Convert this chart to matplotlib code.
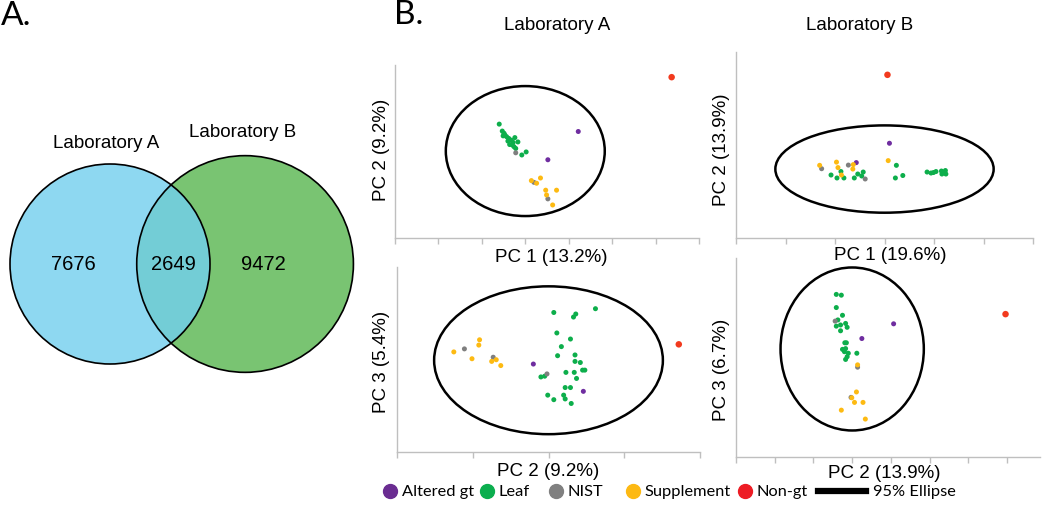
import numpy as np
import matplotlib.pyplot as plt
from matplotlib.patches import Circle, Ellipse
from matplotlib.lines import Line2D

W, H = 1050, 514

# ---- panel A: Venn counts ----
venn_sets = ['Laboratory A', 'Laboratory B']
only_a, shared, only_b = 7676, 2649, 9472

# ---- panel B: PCA scores ----
groups = ['Altered gt', 'Leaf', 'NIST', 'Supplement', 'Non-gt']
colors = ['#6F2DA0', '#0DAE4B', '#7F7F7F', '#FDBA12', '#F23A1E']
legend_colors = ['#6A2C91', '#0BAE4E', '#808080', '#FDB913', '#ED1C24']

# Laboratory A, PC1 vs PC2
labA_pc12 = {
    'Altered gt': ([12.2, 5.2], [4.5, -2.0]),
    'Leaf': ([-6.0, -5.3, -4.9, -5.1, -4.3, -3.8, -3.2, -2.8, -3.6, -2.6, -1.7, -2.4,
              -4.7, -4.0, -3.0, -2.2, 0.2, -0.8],
             [6.2, 4.6, 4.1, 3.5, 3.3, 2.9, 2.5, 2.0, 1.5, 1.0, 2.1, 3.1,
              3.7, 2.3, 1.4, 0.6, -0.2, -0.9]),
    'NIST': ([-2.2, 2.0, 5.2], [-0.4, -7.2, -11.0]),
    'Supplement': ([1.4, 3.5, 2.6, 4.7, 7.2, 4.9, 6.3], [-6.8, -6.2, -7.4, -9.0, -9.0, -10.1, -12.4]),
    'Non-gt': ([33.7], [17.0]),
}
# Laboratory B, PC1 vs PC2
labB_pc12 = {
    'Altered gt': ([1.0, -5.7], [5.2, 1.3]),
    'Leaf': ([-10.8, -8.8, -9.6, -8.2, -6.1, -5.4, -4.6, -4.3, 2.4, 2.2, 3.7,
              8.6, 9.4, 9.9, 10.4, 11.5, 11.9, 12.3, 12.4, 11.6],
             [-1.2, -0.5, -1.8, -1.8, -1.8, -1.0, -1.4, -0.6, 0.75, -1.8, -1.3,
              -0.6, -0.8, -0.7, -0.5, -0.4, -0.7, -0.3, -1.0, -1.0]),
    'NIST': ([-12.7, -7.3, -3.9], [0.07, 0.8, -2.0]),
    'Supplement': ([-13.1, -9.7, -9.4, -6.3, -6.4, -8.7, 0.75], [0.75, 1.4, 0.3, 0.9, 0.0, -1.2, 1.7]),
    'Non-gt': ([0.6], [19.0]),
}
# Laboratory A, PC2 vs PC3
labA_pc23 = {
    'Altered gt': ([-2.0, 4.6], [-0.5, -4.1]),
    'Leaf': ([0.7, 3.6, 3.3, 6.2, 1.1, 2.9, 1.7, 1.2, 3.5, 3.5, 4.2, 4.5, 4.8, 2.3,
              3.4, 3.7, -1.0, -0.5, 2.2, 2.9, -0.1, 0.7, 2.0, 2.2, 3.0],
             [6.3, 6.1, 5.7, 6.8, 3.6, 2.8, 1.8, 0.6, 0.7, -0.15, -0.3, -1.3, -1.3, -1.6,
              -1.6, -2.4, -2.2, -2.1, -3.6, -3.6, -4.6, -5.2, -4.6, -5.1, -5.7]),
    'NIST': ([-11.1, -7.3, -0.2], [1.5, 0.4, -1.8]),
    'Supplement': ([-12.5, -9.1, -9.2, -10.1, -7.5, -6.9, -6.3], [1.1, 2.7, 2.0, 0.2, -0.15, 0.07, -0.7]),
    'Non-gt': ([17.2], [2.1]),
}
# Laboratory B, PC2 vs PC3
labB_pc23 = {
    'Altered gt': ([10.7, 2.5], [6.5, 2.7]),
    'Leaf': ([-4.1, -2.8, -4.1, -2.5, -3.7, -1.7, -4.1, -3.0, -1.3, -3.0, -1.9, -1.5,
              -2.5, -1.7, -2.0, -1.0, 1.2, -1.3, -1.7],
             [14.1, 13.9, 10.7, 8.7, 7.5, 6.6, 5.9, 6.2, 5.6, 4.7, 1.6, 1.6,
              -0.1, 0.1, -0.7, -1.1, -1.1, -2.0, -2.7]),
    'NIST': ([-4.4, 1.4, -0.3], [7.2, -4.7, -12.5]),
    'Supplement': ([1.4, 1.1, -0.1, 0.6, 2.8, -2.8, 3.4], [-4.1, -11.1, -12.6, -13.8, -13.8, -15.8, -18.1]),
    'Non-gt': ([39.6], [9.0]),
}

panel_data = [labA_pc12, labB_pc12, labA_pc23, labB_pc23]
ellipse_w = [36.6, 44.1, 30.2, 37.0]
ellipse_h = [29.9, 17.6, 19.5, 42.1]
x_labels = ['PC 1 (13.2%)', 'PC 1 (19.6%)', 'PC 2 (9.2%)', 'PC 2 (13.9%)']
y_labels = ['PC 2 (9.2%)', 'PC 2 (13.9%)', 'PC 3 (5.4%)', 'PC 3 (6.7%)']
x_lims = [(-30, 40), (-30, 30), (-20, 20), (-30, 48.5)]
y_lims = [(-20, 19.8), (-13.9, 23.6), (-12.1, 12.3), (-27.9, 23.5)]

plt.rcParams['font.family'] = ['Liberation Sans', 'DejaVu Sans']


def fx(px):
    return px / W


def fy(py):
    return 1 - py / H


def rect(left, top, right, bottom):
    return [fx(left), fy(bottom), (right - left) / W, (bottom - top) / H]


fig = plt.figure(figsize=(W / 100, H / 100), dpi=100)

# ---------------- Venn (area proportional) ----------------
tot_a = only_a + shared
tot_b = only_b + shared
r_a = np.sqrt(tot_a / np.pi)
r_b = np.sqrt(tot_b / np.pi)


def lens_area(d, r1, r2):
    a1 = r1 ** 2 * np.arccos((d ** 2 + r1 ** 2 - r2 ** 2) / (2 * d * r1))
    a2 = r2 ** 2 * np.arccos((d ** 2 + r2 ** 2 - r1 ** 2) / (2 * d * r2))
    a3 = 0.5 * np.sqrt((-d + r1 + r2) * (d + r1 - r2) * (d - r1 + r2) * (d + r1 + r2))
    return a1 + a2 - a3


lo, hi = abs(r_a - r_b) + 1e-9, r_a + r_b - 1e-9
for _ in range(80):
    mid = (lo + hi) / 2
    if lens_area(mid, r_a, r_b) > shared:
        lo = mid
    else:
        hi = mid
d = (lo + hi) / 2

scale = 100 / r_a  # pixels per venn unit
axv = fig.add_axes([0, 0, 370 / W, 1])
axv.set_xlim(-110 / scale, 260 / scale)
axv.set_ylim(-250 / scale, 264 / scale)
axv.axis('off')

ca = Circle((0, 0), r_a, facecolor='#8ED8F1', edgecolor='none')
cb = Circle((d, 0), r_b, facecolor='#79C472', edgecolor='none')
axv.add_patch(ca)
axv.add_patch(cb)
overlap = Circle((0, 0), r_a, facecolor='#73CDD6', edgecolor='none')
axv.add_patch(overlap)
overlap.set_clip_path(cb)
axv.add_patch(Circle((0, 0), r_a, fill=False, edgecolor='black', lw=1.2))
axv.add_patch(Circle((d, 0), r_b, fill=False, edgecolor='black', lw=1.2))

axv.text((-r_a + d - r_b) / 2, 0, f'{only_a}', ha='center', va='center', fontsize=14.5)
axv.text((d - r_b + r_a) / 2, 0, f'{shared}', ha='center', va='center', fontsize=14.5)
axv.text(d + 0.17 * r_b, 0, f'{only_b}', ha='center', va='center', fontsize=14.5)
axv.text(-0.04 * r_a, r_a + 20 / scale, venn_sets[0], ha='center', va='center', fontsize=13.5)
axv.text(d - 0.02 * r_b, r_b + 23 / scale, venn_sets[1], ha='center', va='center', fontsize=13.5)

fig.text(fx(1), fy(16), 'A.', ha='left', va='center', fontsize=24, family=['Lato', 'DejaVu Sans'])
fig.text(fx(394), fy(15), 'B.', ha='left', va='center', fontsize=24, family=['Lato', 'DejaVu Sans'])

# ---------------- PCA panels ----------------
rects = [rect(395, 65, 699, 238), rect(736, 52, 1033, 238),
         rect(397, 267, 700, 452), rect(736, 258, 1040, 457)]
xlab_pos = [(551, 257), (890, 255), (548, 471), (884, 473)]
ylab_pos = [(381, 150), (722, 150), (381, 362), (722, 370)]

for i in range(4):
    ax = fig.add_axes(rects[i])
    for g, c in zip(groups, colors):
        xs, ys = panel_data[i][g]
        s = 22 if g == 'Non-gt' else 13
        ax.scatter(xs, ys, s=s, color=c, edgecolors='none', zorder=3, clip_on=False)
    ax.add_patch(Ellipse((0, 0), ellipse_w[i], ellipse_h[i], fill=False,
                         edgecolor='black', lw=1.8, clip_on=False))
    ax.set_xlim(*x_lims[i])
    ax.set_ylim(*y_lims[i])
    ax.set_xticks(np.arange(x_lims[i][0], x_lims[i][1] + 0.1, 10))
    ax.set_yticks([])
    ax.tick_params(axis='x', direction='out', length=4, width=1, color='#BFBFBF', labelbottom=False)
    for sp in ['top', 'right']:
        ax.spines[sp].set_visible(False)
    for sp in ['left', 'bottom']:
        ax.spines[sp].set_color('#BFBFBF')
        ax.spines[sp].set_linewidth(1)
    fig.text(fx(xlab_pos[i][0]), fy(xlab_pos[i][1]), x_labels[i], ha='center', va='center', fontsize=13.5)
    fig.text(fx(ylab_pos[i][0]), fy(ylab_pos[i][1]), y_labels[i], ha='center', va='center',
             fontsize=13.5, rotation=90)

fig.text(fx(557), fy(25), 'Laboratory A', ha='center', va='center', fontsize=13.5)
fig.text(fx(860), fy(25), 'Laboratory B', ha='center', va='center', fontsize=13.5)

# ---------------- legend: one entry at a time to match spacing ----------------
leg_font = {'family': 'Lato', 'size': 11.8}
item_left = [383, 480, 549, 626, 738]
for g, c, x0 in zip(groups, legend_colors, item_left):
    h = Line2D([], [], marker='o', ls='', ms=10, color=c)
    fig.legend([h], [g], loc='center left', bbox_to_anchor=(fx(x0), fy(492)), frameon=False,
               handlelength=0.85, handletextpad=0.28, borderpad=0, borderaxespad=0, prop=leg_font)
h = Line2D([], [], color='black', lw=4.5)
fig.legend([h], ['95% Ellipse'], loc='center left', bbox_to_anchor=(fx(818), fy(492)), frameon=False,
           handlelength=2.9, handletextpad=0.45, borderpad=0, borderaxespad=0, prop=leg_font)

fig.savefig('out.png', dpi=100)
